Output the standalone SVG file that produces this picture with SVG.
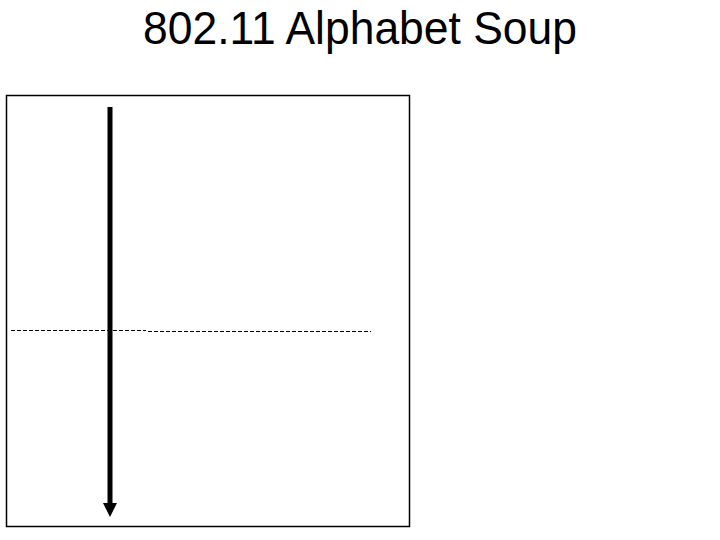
<svg xmlns="http://www.w3.org/2000/svg" width="720" height="540" viewBox="0 0 720 540">
<style>
.title{font-family:"Liberation Sans",Arial,sans-serif;font-size:46px;fill:#000}
.dash{stroke:#000;stroke-width:1;stroke-dasharray:4,2;fill:none}
</style>
<defs>
<marker id="ah" markerWidth="14" markerHeight="14" refX="0" refY="7" orient="auto" markerUnits="userSpaceOnUse" viewBox="0 0 14 14">
<path d="M0,0 L14,7 L0,14 Z" fill="#000"/>
</marker>
</defs>
<rect width="720" height="540" fill="#fff"/>
<text class="title" x="143" y="44" textLength="434" lengthAdjust="spacingAndGlyphs">802.11 Alphabet Soup</text>
<g id="frame">
<rect x="6.5" y="95.5" width="403" height="431" fill="none" stroke="#000" stroke-width="1.5"/>
</g>
<g id="connectors">
<line x1="110" y1="107" x2="110" y2="503" stroke="#000" stroke-width="5" marker-end="url(#ah)"/>
<line class="dash" x1="11" y1="330.5" x2="146" y2="330.5"/>
<line class="dash" x1="148" y1="331.5" x2="371" y2="331.5"/>
</g>
</svg>
